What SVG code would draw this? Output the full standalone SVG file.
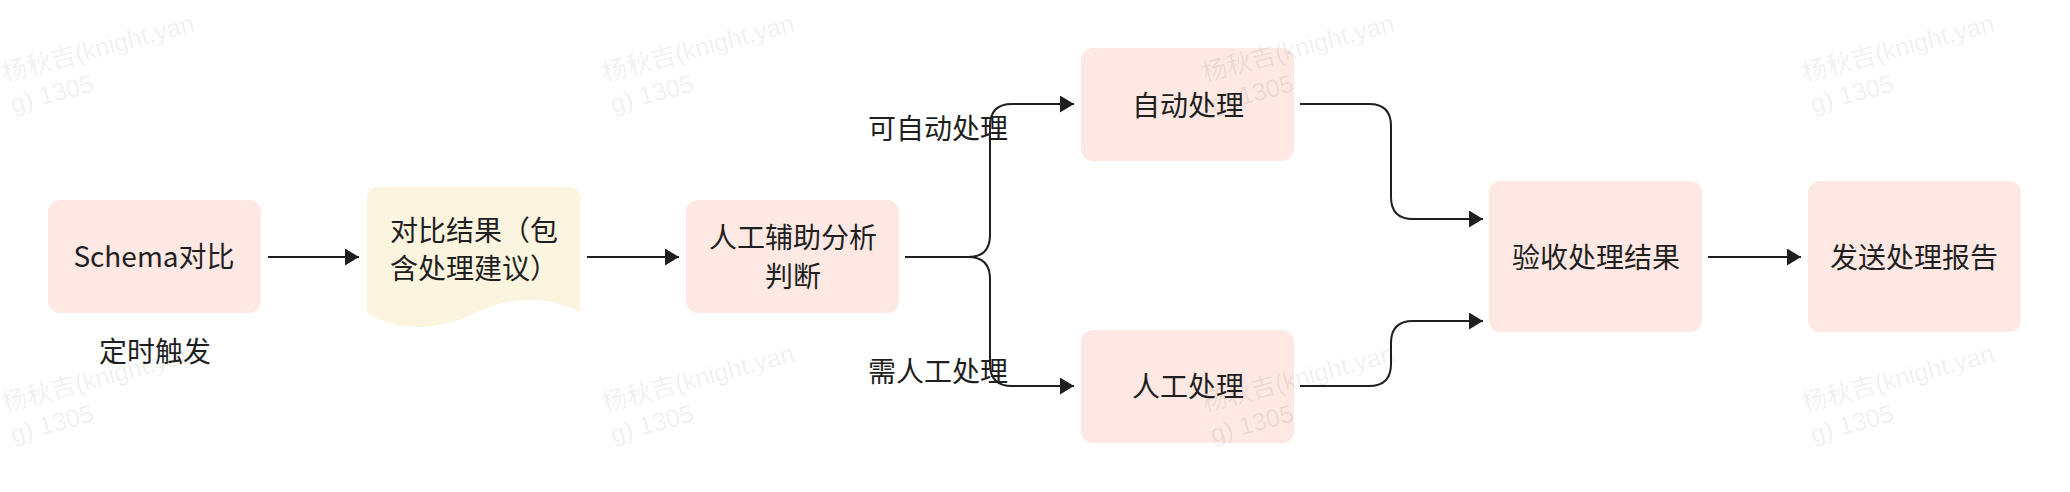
<svg xmlns="http://www.w3.org/2000/svg" width="2070" height="492" viewBox="0 0 2070 492">
  <style>
    .box { fill: #FDE8E3; }
    .doc { fill: #FBF5DF; }
    .t { font-family: "Noto Sans CJK SC", "Noto Sans", sans-serif; font-size: 28px; fill: #1f1f1f; text-anchor: middle; }
    .conn { fill: none; stroke: #1f1f1f; stroke-width: 2; }
    .wm { font-family: "Liberation Sans", "Noto Sans CJK SC", sans-serif; font-size: 25px; fill: #000; fill-opacity: 0.07; }
  </style>
  <defs>
    <marker id="arrow" markerUnits="userSpaceOnUse" markerWidth="16" markerHeight="18" refX="14" refY="8.5" orient="auto">
      <path d="M0,0 L14,8.5 L0,17 z" fill="#1f1f1f"/>
    </marker>
  </defs>
  <rect x="0" y="0" width="2070" height="492" fill="#ffffff"/>

  <g id="node-schema">
    <rect class="box" x="48" y="200" width="213" height="113" rx="12"/>
    <text class="t" x="154" y="267">Schema对比</text>
  </g>
  <g id="label-timer">
    <text class="t" x="155" y="362">定时触发</text>
  </g>
  <g id="node-result-doc">
    <path class="doc" d="M367,199 Q367,187 379,187 H568 Q580,187 580,199 V312 C550,296 510,296 475,313 C440,330 400,333 367,313 Z"/>
    <text class="t" x="474" y="241">对比结果（包</text>
    <text class="t" x="474" y="279">含处理建议）</text>
  </g>
  <g id="node-manual-analysis">
    <rect class="box" x="686" y="200" width="213" height="113" rx="12"/>
    <text class="t" x="793" y="248">人工辅助分析</text>
    <text class="t" x="793" y="287">判断</text>
  </g>
  <g id="node-auto">
    <rect class="box" x="1081" y="48" width="213" height="113" rx="12"/>
    <text class="t" x="1188" y="116">自动处理</text>
  </g>
  <g id="node-manual">
    <rect class="box" x="1081" y="330" width="213" height="113" rx="12"/>
    <text class="t" x="1188" y="397">人工处理</text>
  </g>
  <g id="node-accept">
    <rect class="box" x="1489" y="181" width="213" height="151" rx="12"/>
    <text class="t" x="1596" y="268">验收处理结果</text>
  </g>
  <g id="node-report">
    <rect class="box" x="1808" y="181" width="213" height="151" rx="12"/>
    <text class="t" x="1914" y="268">发送处理报告</text>
  </g>

  <g id="connectors">
    <path class="conn" d="M268,257 H359" marker-end="url(#arrow)"/>
    <path class="conn" d="M587,257 H679" marker-end="url(#arrow)"/>
    <path class="conn" d="M905,257 H968 Q990,257 990,235 V126 Q990,104 1012,104 H1074" marker-end="url(#arrow)"/>
    <path class="conn" d="M905,257 H968 Q990,257 990,279 V364 Q990,386 1012,386 H1074" marker-end="url(#arrow)"/>
    <path class="conn" d="M1300,104 H1369 Q1391,104 1391,126 V197 Q1391,219 1413,219 H1483" marker-end="url(#arrow)"/>
    <path class="conn" d="M1300,386 H1369 Q1391,386 1391,364 V343 Q1391,321 1413,321 H1483" marker-end="url(#arrow)"/>
    <path class="conn" d="M1708,257 H1801" marker-end="url(#arrow)"/>
    <text class="t" x="938" y="139">可自动处理</text>
    <text class="t" x="938" y="382">需人工处理</text>
  </g>

  <g id="watermarks">
    <g transform="translate(5,82) rotate(-15)"><text class="wm" x="0" y="0">杨秋吉(knight.yan</text><text class="wm" x="0" y="32">g) 1305</text></g>
    <g transform="translate(605,82) rotate(-15)"><text class="wm" x="0" y="0">杨秋吉(knight.yan</text><text class="wm" x="0" y="32">g) 1305</text></g>
    <g transform="translate(1205,82) rotate(-15)"><text class="wm" x="0" y="0">杨秋吉(knight.yan</text><text class="wm" x="0" y="32">g) 1305</text></g>
    <g transform="translate(1805,82) rotate(-15)"><text class="wm" x="0" y="0">杨秋吉(knight.yan</text><text class="wm" x="0" y="32">g) 1305</text></g>
    <g transform="translate(5,412) rotate(-15)"><text class="wm" x="0" y="0">杨秋吉(knight.yan</text><text class="wm" x="0" y="32">g) 1305</text></g>
    <g transform="translate(605,412) rotate(-15)"><text class="wm" x="0" y="0">杨秋吉(knight.yan</text><text class="wm" x="0" y="32">g) 1305</text></g>
    <g transform="translate(1205,412) rotate(-15)"><text class="wm" x="0" y="0">杨秋吉(knight.yan</text><text class="wm" x="0" y="32">g) 1305</text></g>
    <g transform="translate(1805,412) rotate(-15)"><text class="wm" x="0" y="0">杨秋吉(knight.yan</text><text class="wm" x="0" y="32">g) 1305</text></g>
  </g>
</svg>
